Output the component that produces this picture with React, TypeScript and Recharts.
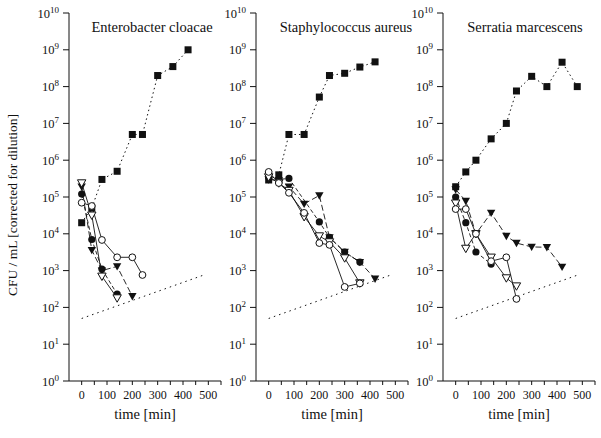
import React from 'react'
import { LineChart, Line, XAxis, YAxis } from 'recharts'

// shared axes
const decades = [1, 1e1, 1e2, 1e3, 1e4, 1e5, 1e6, 1e7, 1e8, 1e9, 1e10]
const timeTicks = [0, 50, 100, 150, 200, 250, 300, 350, 400, 450, 500, 550]

// detection limit (dotted, same in every panel)
const limitT = [0, 480]
const limitV = [50, 750]

// Enterobacter cloacae
const ecGrowthT = [0, 40, 80, 140, 200, 240, 300, 360, 420]
const ecGrowthV = [2e4, 5e4, 3e5, 5e5, 5e6, 5e6, 2e8, 3.5e8, 1e9]
const ecFilledCircleT = [0, 40, 80, 140]
const ecFilledCircleV = [1.2e5, 7e3, 1.1e3, 230]
const ecFilledTriT = [0, 40, 80, 140, 200]
const ecFilledTriV = [1.9e5, 3.6e3, 1e3, 1.3e3, 200]
const ecOpenCircleT = [0, 40, 80, 140, 200, 240]
const ecOpenCircleV = [7e4, 5.7e4, 6.8e3, 2.3e3, 2.3e3, 760]
const ecOpenTriT = [0, 40, 80, 140]
const ecOpenTriV = [2.4e5, 3.2e4, 700, 180]

// Staphylococcus aureus
const saGrowthT = [0, 40, 80, 140, 200, 240, 300, 360, 420]
const saGrowthV = [2.9e5, 4e5, 5e6, 5e6, 5.2e7, 2e8, 2.3e8, 3.4e8, 4.7e8]
const saFilledCircleT = [0, 40, 80, 200, 240, 300, 360]
const saFilledCircleV = [3.5e5, 3e5, 3.2e5, 2.1e4, 8e3, 3.2e3, 1.7e3]
const saFilledTriT = [0, 40, 80, 140, 200, 240, 300, 360, 420]
const saFilledTriV = [3e5, 2.8e5, 1.9e5, 6.5e4, 1.1e5, 8e3, 3.2e3, 1.7e3, 600]
const saOpenCircleT = [0, 40, 80, 140, 200, 240, 300, 360]
const saOpenCircleV = [4.8e5, 2.4e5, 1.3e5, 3.7e4, 5.6e3, 5e3, 360, 450]
const saOpenTriT = [0, 40, 80, 140, 200, 240, 300, 360]
const saOpenTriV = [3.5e5, 2.4e5, 1.5e5, 2.9e4, 8.7e3, 6e3, 2.2e3, 460]

// Serratia marcescens
const smGrowthT = [0, 40, 80, 140, 200, 240, 300, 360, 420, 480]
const smGrowthV = [1.9e5, 4.8e5, 1e6, 3.8e6, 1e7, 7.6e7, 1.9e8, 1e8, 4.6e8, 1e8]
const smFilledCircleT = [0, 40, 80, 140]
const smFilledCircleV = [1e5, 2e4, 3.2e3, 1.5e3]
const smFilledTriT = [0, 40, 80, 140, 200, 240, 300, 360, 420]
const smFilledTriV = [1.6e5, 7.8e4, 1e4, 3.7e4, 8.7e3, 5.6e3, 4.4e3, 4.3e3, 1.26e3]
const smOpenCircleT = [0, 40, 80, 140, 200, 240]
const smOpenCircleV = [4.7e4, 4.7e4, 1e4, 1.8e3, 2.3e3, 170]
const smOpenTriT = [0, 40, 80, 140, 200, 240]
const smOpenTriV = [6.8e4, 4e3, 1e4, 2.3e3, 630, 380]

const pts = (t: number[], v: number[]) => t.map((x, i) => ({ t: x, v: v[i] }))

const FONT = '"Liberation Serif", "Times New Roman", serif'
const INK = '#111'

type Marker = 'square' | 'disc' | 'ring' | 'triFill' | 'triOpen' | 'none'

const makeDot = (kind: Marker) => (props: any) => {
  const { cx, cy, index } = props
  const key = `d-${kind}-${index}`
  if (cx == null || cy == null || kind === 'none') return <g key={key} />
  if (kind === 'square')
    return <rect key={key} x={cx - 3.5} y={cy - 3.5} width={7} height={7} fill={INK} />
  if (kind === 'disc') return <circle key={key} cx={cx} cy={cy} r={3.6} fill={INK} />
  if (kind === 'ring')
    return <circle key={key} cx={cx} cy={cy} r={3.4} fill="#fff" stroke={INK} strokeWidth={1} />
  const d = `M${cx - 4.2},${cy - 3.2} L${cx + 4.2},${cy - 3.2} L${cx},${cy + 4.2} Z`
  return kind === 'triFill' ? (
    <path key={key} d={d} fill={INK} />
  ) : (
    <path key={key} d={d} fill="#fff" stroke={INK} strokeWidth={1} />
  )
}

const YTick = ({ x, y, payload }: any) => {
  const exp = Math.round(Math.log10(payload.value))
  return (
    <text x={x - 2} y={y + 4.5} textAnchor="end" fontFamily={FONT} fill={INK}>
      <tspan fontSize={12.5}>10</tspan>
      <tspan fontSize={9} dy={-5}>
        {exp}
      </tspan>
    </text>
  )
}

const XTick = ({ x, y, payload }: any) => {
  if (payload.value % 100 !== 0) return <g />
  return (
    <text x={x} y={y + 12} textAnchor="middle" fontFamily={FONT} fontSize={12} fill={INK}>
      {payload.value}
    </text>
  )
}

interface Series {
  data: { t: number; v: number }[]
  marker: Marker
  dash?: string
  width?: number
}

function Panel({ left, series }: { left: number; series: Series[] }) {
  return (
    <div style={{ position: 'absolute', left, top: 0 }}>
      <LineChart width={227} height={438} margin={{ top: 13, right: 6, bottom: 27, left: 0 }}>
        <XAxis
          type="number"
          dataKey="t"
          domain={[-50, 550]}
          ticks={timeTicks}
          interval={0}
          tick={<XTick />}
          tickSize={4}
          height={30}
          stroke={INK}
          allowDataOverflow
        />
        <YAxis
          type="number"
          dataKey="v"
          scale="log"
          domain={[1, 1e10]}
          ticks={decades}
          interval={0}
          tick={<YTick />}
          tickSize={6}
          width={69}
          stroke={INK}
          allowDataOverflow
        />
        {series.map((s, i) => (
          <Line
            key={i}
            data={s.data}
            dataKey="v"
            type="linear"
            stroke={INK}
            strokeWidth={s.width ?? 0.9}
            strokeDasharray={s.dash}
            dot={makeDot(s.marker)}
            activeDot={false}
            isAnimationActive={false}
          />
        ))}
      </LineChart>
    </div>
  )
}

const build = (
  g: [number[], number[]],
  fc: [number[], number[]],
  ft: [number[], number[]],
  oc: [number[], number[]],
  ot: [number[], number[]]
): Series[] => [
  { data: pts(limitT, limitV), marker: 'none', dash: '1.5 4', width: 1 },
  { data: pts(g[0], g[1]), marker: 'square', dash: '1.5 3', width: 1 },
  { data: pts(ft[0], ft[1]), marker: 'triFill', dash: '6 3' },
  { data: pts(fc[0], fc[1]), marker: 'disc', dash: '4 2.5' },
  { data: pts(ot[0], ot[1]), marker: 'triOpen' },
  { data: pts(oc[0], oc[1]), marker: 'ring' },
]

const panels = [
  {
    left: 0,
    title: 'Enterobacter cloacae',
    titleX: 152,
    series: build(
      [ecGrowthT, ecGrowthV],
      [ecFilledCircleT, ecFilledCircleV],
      [ecFilledTriT, ecFilledTriV],
      [ecOpenCircleT, ecOpenCircleV],
      [ecOpenTriT, ecOpenTriV]
    ),
  },
  {
    left: 187,
    title: 'Staphylococcus aureus',
    titleX: 346,
    series: build(
      [saGrowthT, saGrowthV],
      [saFilledCircleT, saFilledCircleV],
      [saFilledTriT, saFilledTriV],
      [saOpenCircleT, saOpenCircleV],
      [saOpenTriT, saOpenTriV]
    ),
  },
  {
    left: 374,
    title: 'Serratia marcescens',
    titleX: 525,
    series: build(
      [smGrowthT, smGrowthV],
      [smFilledCircleT, smFilledCircleV],
      [smFilledTriT, smFilledTriV],
      [smOpenCircleT, smOpenCircleV],
      [smOpenTriT, smOpenTriV]
    ),
  },
]

export default function App() {
  return (
    <div
      style={{
        position: 'fixed',
        left: 0,
        top: 0,
        width: 601,
        height: 438,
        background: '#fff',
        overflow: 'hidden',
      }}
    >
      {panels.map((p) => (
        <Panel key={p.title} left={p.left} series={p.series} />
      ))}
      <svg
        width={601}
        height={438}
        style={{ position: 'absolute', left: 0, top: 0, pointerEvents: 'none' }}
      >
        {panels.map((p) => (
          <g key={p.title} fontFamily={FONT} fill={INK}>
            <text x={p.titleX} y={32} textAnchor="middle" fontSize={14.5}>
              {p.title}
            </text>
            <text x={p.left + 69 + 76} y={419} textAnchor="middle" fontSize={14.5}>
              time [min]
            </text>
          </g>
        ))}
        <text
          x={0}
          y={0}
          transform="translate(17,205) rotate(-90)"
          textAnchor="middle"
          fontFamily={FONT}
          fontSize={13.5}
          fill={INK}
        >
          CFU / mL [corrected for dilution]
        </text>
      </svg>
    </div>
  )
}
